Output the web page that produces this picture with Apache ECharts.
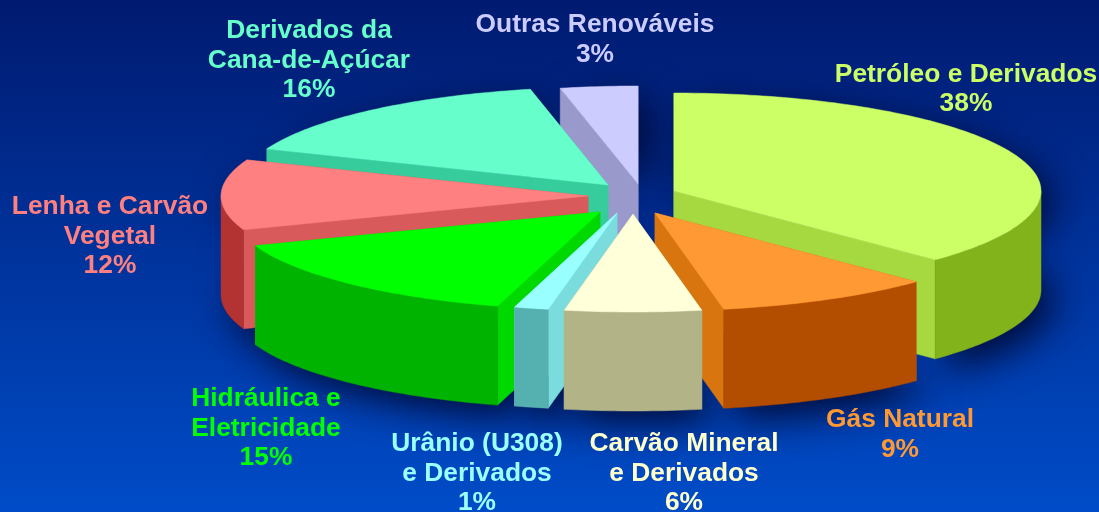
<!DOCTYPE html>
<html>
<head>
<meta charset="utf-8">
<style>
  html, body { margin: 0; padding: 0; background: #0036a0; }
  #chart { width: 1099px; height: 512px; filter: blur(0.7px); }
</style>
<script src="https://cdn.jsdelivr.net/npm/echarts@6/dist/echarts.min.js"></script>
</head>
<body>
<div id="chart"></div>
<script>
const names = [
  'Petróleo e Derivados',
  'Gás Natural',
  'Carvão Mineral\ne Derivados',
  'Urânio (U308)\ne Derivados',
  'Hidráulica e\nEletricidade',
  'Lenha e Carvão\nVegetal',
  'Derivados da\nCana-de-Açúcar',
  'Outras Renováveis'
]
// slice sizes, the printed percentages are rounded
const values = [37.4, 9.6, 6.0, 1.5, 14.9, 11.6, 15.6, 3.4]
const percents = ['38%', '9%', '6%', '1%', '15%', '12%', '16%', '3%']

const topColors = ['#ccff66', '#ff9933', '#ffffd9', '#99ffff', '#00ff00', '#ff8080', '#66ffcc', '#ccccff']
const innerColors = ['#a6d93f', '#d9750f', '#b3b388', '#7adcdc', '#00d900', '#d95a5a', '#36cc9c', '#9999cc']
const outerColors = ['#82b31a', '#b34d00', '#b3b388', '#55b0b0', '#00b300', '#b33333', '#36cc9c', '#9999cc']
const textColors = ['#ccff66', '#ff9933', '#ffffcc', '#99ffff', '#00ff00', '#ff8080', '#66ffcc', '#ccccff']

// pie layout
const centerX = 633
const centerY = 196
const radiusX = 367
const radiusY = 98
const depth = 99
const explodeX = [41, 22, 0, -16, -33, -45, -25, 5]
const explodeY = [-5, 17, 18, 17, 16, 0, -11, -12]
const drawOrder = [7, 6, 0, 5, 4, 1, 3, 2]

// label block centres
const labelX = [966, 900, 684, 477, 266, 110, 309, 595]
const labelY = [89.5, 435, 474, 474, 429, 237, 61, 40]

const total = values.reduce((a, b) => a + b, 0)
const startAngles = []
const endAngles = []
let running = 0
values.forEach(v => {
  startAngles.push(running / total * 360)
  running += v
  endAngles.push(running / total * 360)
})

function point(i, deg, drop) {
  const rad = deg * Math.PI / 180
  return [
    centerX + explodeX[i] + radiusX * Math.sin(rad),
    centerY + explodeY[i] - radiusY * Math.cos(rad) + drop
  ]
}

function apex(i, drop) {
  return [centerX + explodeX[i], centerY + explodeY[i] + drop]
}

function arc(i, from, to, drop) {
  const pts = []
  const steps = Math.max(2, Math.ceil(Math.abs(to - from)))
  for (let s = 0; s <= steps; s++) {
    pts.push(point(i, from + (to - from) * s / steps, drop))
  }
  return pts
}

function polygon(points, fill) {
  return {
    type: 'polygon',
    shape: { points: points },
    style: { fill: fill, stroke: fill, lineWidth: 0.5 }
  }
}

function wall(i, deg) {
  return polygon([apex(i, 0), point(i, deg, 0), point(i, deg, depth), apex(i, depth)], innerColors[i])
}

function renderShadow(params, api) {
  const i = api.value(0)
  const s = startAngles[i]
  const e = endAngles[i]
  const points = [apex(i, 0)].concat(arc(i, s, e, 0), arc(i, e, s, depth))
  return {
    type: 'polygon',
    shape: { points: points },
    style: {
      fill: '#001050',
      shadowBlur: 38,
      shadowColor: 'rgba(0,8,50,0.95)',
      shadowOffsetX: 12,
      shadowOffsetY: 12
    }
  }
}

function renderSlice(params, api) {
  const i = api.value(0)
  const s = startAngles[i]
  const e = endAngles[i]
  const children = [wall(i, s), wall(i, e)]
  // only the front half of the rim can be seen
  const from = Math.max(s, 90)
  const to = Math.min(e, 270)
  if (to > from) {
    children.push(polygon(arc(i, from, to, 0).concat(arc(i, to, from, depth)), outerColors[i]))
  }
  children.push(polygon([apex(i, 0)].concat(arc(i, s, e, 0)), topColors[i]))
  return { type: 'group', children: children }
}

function renderLabel(params, api) {
  const i = api.value(0)
  return {
    type: 'text',
    x: labelX[i],
    y: labelY[i],
    scaleX: 1.055,
    style: {
      text: names[i] + '\n' + percents[i],
      align: 'center',
      verticalAlign: 'middle',
      fill: textColors[i],
      font: 'bold 25px "Liberation Sans", Arial, sans-serif',
      lineHeight: 29.5,
      shadowBlur: 3,
      shadowColor: 'rgba(0,0,40,0.9)',
      shadowOffsetX: 2,
      shadowOffsetY: 2
    }
  }
}

const order = drawOrder.map(i => [i])
const chart = echarts.init(document.getElementById('chart'))
chart.setOption({
  animation: false,
  backgroundColor: {
    type: 'linear', x: 0, y: 0, x2: 0, y2: 1,
    colorStops: [
      { offset: 0, color: '#001a70' },
      { offset: 1, color: '#004cc8' }
    ]
  },
  series: [
    { type: 'custom', coordinateSystem: 'none', silent: true, z: 1, data: order, renderItem: renderShadow },
    { type: 'custom', coordinateSystem: 'none', silent: true, z: 2, data: order, renderItem: renderSlice },
    { type: 'custom', coordinateSystem: 'none', silent: true, z: 3, data: order, renderItem: renderLabel }
  ]
})
</script>
</body>
</html>
